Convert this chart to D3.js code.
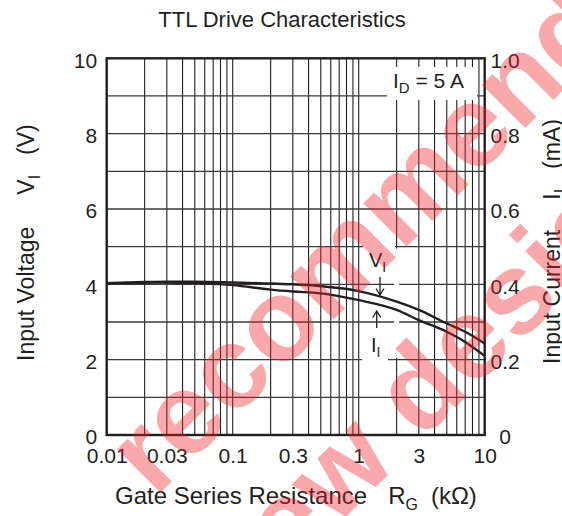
<!DOCTYPE html>
<html><head><meta charset="utf-8">
<script src="https://cdn.jsdelivr.net/npm/d3@7"></script>
<style>
body{margin:0;background:#fff}
svg{display:block}
text{font-family:"Liberation Sans",Arial,Helvetica,sans-serif;fill:#231f20}
</style>
</head><body>
<svg id="c" width="562" height="516"></svg>
<script>
// ---- data ----
const resistance   = [0.01, 0.02, 0.03, 0.05, 0.1, 0.2, 0.3, 0.5, 1, 2, 3, 5, 7, 10]; // kΩ
const inputVoltage = [4.03, 4.06, 4.07, 4.07, 4.05, 4.02, 4.00, 3.95, 3.82, 3.54, 3.32, 2.96, 2.74, 2.43]; // V
const inputCurrent = [0.402, 0.404, 0.405, 0.403, 0.398, 0.386, 0.381, 0.376, 0.358, 0.332, 0.305, 0.274, 0.247, 0.210]; // mA
const xTicks       = [0.01, 0.03, 0.1, 0.3, 1, 3, 10];
const xTickLabels  = ["0.01", "0.03", "0.1", "0.3", "1", "3", "10"];
const vTicks       = [0, 2, 4, 6, 8, 10];
const iTicks       = [0, 0.2, 0.4, 0.6, 0.8, 1.0];
const iTickLabels  = ["0", "0.2", "0.4", "0.6", "0.8", "1.0"];

const svg = d3.select("#c");
const L = 106.7, R = 484.7, T = 58.3, B = 435;
const x  = d3.scaleLog().domain([0.01, 10]).range([L, R]);
const yV = d3.scaleLinear().domain([0, 10]).range([B, T]);
const yI = d3.scaleLinear().domain([0, 1]).range([B, T]);
const ink = "#231f20";

// grid
const g = svg.append("g");
x.ticks().filter(d => d > 0.01 && d < 10).forEach(d => {
  g.append("line").attr("x1", x(d)).attr("x2", x(d)).attr("y1", T).attr("y2", B)
   .attr("stroke", ink).attr("stroke-width", 1.1);
});
d3.range(1, 10).forEach(d => {
  g.append("line").attr("x1", L).attr("x2", R).attr("y1", yV(d)).attr("y2", yV(d))
   .attr("stroke", "#3a3a3a").attr("stroke-width", 1.3);
});

// white-outs behind annotations
const wo = (x0, y0, x1, y1) => svg.append("rect").attr("x", x0).attr("y", y0)
  .attr("width", x1 - x0).attr("height", y1 - y0).attr("fill", "#fff");
wo(387, 67, 477, 100);
wo(363, yV(5) - 3, 395, yV(5) + 3);
wo(362, yV(2) - 3, 388, yV(2) + 3);
wo(x(2) - 2.5, yV(5) + 2, x(2) + 2.5, yV(2) - 2);

// curves
const lineV = d3.line().x((d, i) => x(resistance[i])).y(d => yV(d)).curve(d3.curveMonotoneX);
const lineI = d3.line().x((d, i) => x(resistance[i])).y(d => yI(d)).curve(d3.curveMonotoneX);
svg.append("path").attr("d", lineV(inputVoltage)).attr("fill", "none").attr("stroke", ink).attr("stroke-width", 2.4);
svg.append("path").attr("d", lineI(inputCurrent)).attr("fill", "none").attr("stroke", ink).attr("stroke-width", 2.4);

// frame
svg.append("rect").attr("x", L).attr("y", T).attr("width", R - L).attr("height", B - T)
  .attr("fill", "none").attr("stroke", ink).attr("stroke-width", 2.4);

// axes
const fs = 21;
const ax = svg.append("g").attr("transform", `translate(0,${B})`)
  .call(d3.axisBottom(x).tickValues(xTicks).tickFormat((d, i) => xTickLabels[i]).tickSize(0));
ax.select(".domain").remove();
ax.selectAll("text").attr("y", 13).attr("dy", "0.71em").style("font-size", fs + "px").attr("font-family", null);

const al = svg.append("g").attr("transform", `translate(${L},0)`)
  .call(d3.axisLeft(yV).tickValues(vTicks).tickFormat(d3.format("d")).tickSize(0));
al.select(".domain").remove();
al.selectAll("text").attr("x", -9.5).attr("dy", "0.42em").style("font-size", fs + "px").attr("font-family", null);

const ar = svg.append("g").attr("transform", `translate(${R},0)`)
  .call(d3.axisRight(yI).tickValues(iTicks).tickFormat((d, i) => iTickLabels[i]).tickSize(0));
ar.select(".domain").remove();
ar.selectAll("text").attr("x", 20.5).attr("text-anchor", "middle").attr("dy", "0.42em").style("font-size", fs + "px").attr("font-family", null);

// title
svg.append("text").attr("x", 282).attr("y", 27).attr("text-anchor", "middle")
  .style("font-size", "22px").text("TTL Drive Characteristics");

// x label
const xl = svg.append("text").attr("x", 115).attr("y", 504).style("font-size", "24px");
xl.append("tspan").text("Gate Series Resistance");
xl.append("tspan").attr("dx", 21).text("R");
xl.append("tspan").attr("dy", 6).style("font-size", "16px").text("G");
xl.append("tspan").attr("dy", -6).attr("dx", 13).text("(kΩ)");

// left label
const yl = svg.append("text").attr("transform", "translate(34,361) rotate(-90)").style("font-size", "23px");
yl.append("tspan").text("Input Voltage");
yl.append("tspan").attr("dx", 32).text("V");
yl.append("tspan").attr("dy", 6).style("font-size", "16px").text("I");
yl.append("tspan").attr("dy", -6).attr("dx", 20).text("(V)");

// right label
const yr = svg.append("text").attr("transform", "translate(560,364) rotate(-90)").style("font-size", "23px");
yr.append("tspan").text("Input Current");
yr.append("tspan").attr("dx", 30).text("I");
yr.append("tspan").attr("dy", 6).style("font-size", "16px").text("I");
yr.append("tspan").attr("dy", -6).attr("dx", 20).text("(mA)");

// annotations
const id = svg.append("text").attr("x", 393).attr("y", 87.5).style("font-size", "21px");
id.append("tspan").text("I");
id.append("tspan").attr("dy", 5).style("font-size", "15px").text("D");
id.append("tspan").attr("dy", -5).text(" = 5 A");

const vl = svg.append("text").attr("x", 369).attr("y", 267).style("font-size", "20px");
vl.append("tspan").text("V");
vl.append("tspan").attr("dy", 5).style("font-size", "14px").text("I");
const il = svg.append("text").attr("x", 371).attr("y", 352).style("font-size", "20px");
il.append("tspan").text("I");
il.append("tspan").attr("dy", 5).style("font-size", "14px").text("I");

const ax1 = 380, ax2 = 376.7;
svg.append("path").attr("d", `M${ax1},277V295M${ax1-4},288.5L${ax1},295L${ax1+4},288.5`)
  .attr("fill", "none").attr("stroke", ink).attr("stroke-width", 1.3);
svg.append("path").attr("d", `M${ax2},328V311M${ax2-4},317.5L${ax2},311L${ax2+4},317.5`)
  .attr("fill", "none").attr("stroke", ink).attr("stroke-width", 1.3);

// watermark
const wm = svg.append("g").attr("pointer-events", "none");
function wmText(str, u, v, size, anchor) {
  const t = wm.append("text").style("font-size", size + "px").style("font-weight", "bold")
    .attr("text-anchor", anchor)
    .style("fill", "#ee1c25").style("fill-opacity", 0.38).text(str);
  t.attr("transform", `translate(${(u + v) / Math.SQRT2},${(v - u) / Math.SQRT2}) rotate(-45)`);
  return t;
}
wmText("recommended", -243, 462, 116, "start");
wmText("Not", -330, 462, 116, "end");
wmText("design", -14, 610, 116, "start");
wmText("for new", -46, 610, 116, "end");
</script>
</body></html>
